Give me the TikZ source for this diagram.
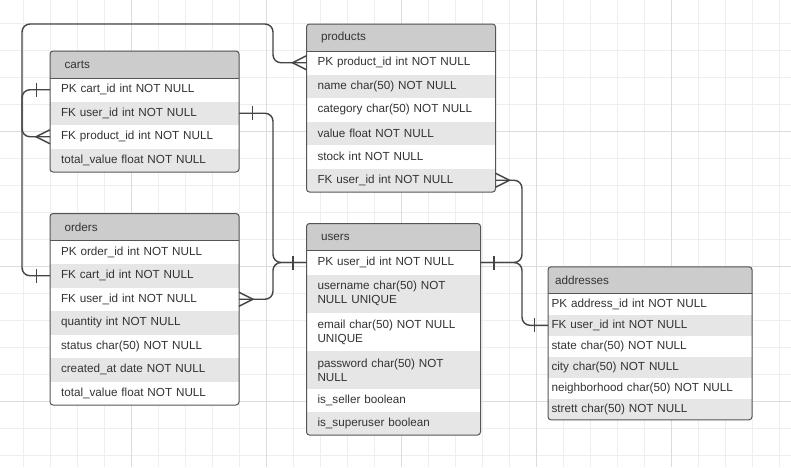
\documentclass[tikz,border=0pt]{standalone}
\usepackage{fontspec}
\setmainfont{Liberation Sans}
\usetikzlibrary{calc}
\definecolor{gridminor}{HTML}{EEEEEE}
\definecolor{gridmajor}{HTML}{DCDCDC}
\definecolor{hdrcol}{HTML}{CCCCCC}
\definecolor{altcol}{HTML}{E6E6E6}
\definecolor{bordcol}{HTML}{555555}
\definecolor{linecol}{HTML}{444444}
\definecolor{txtcol}{HTML}{333333}
\newcommand\erfont{\fontsize{11.7}{13.8}\selectfont}
% #1 name, #2 x, #3 y, #4 width, #5 total height, #6 title, #7 row indent, #8 header indent
\newcommand\ertab[8]{%
  \pgfmathsetmacro\erw{#4}%
  \pgfmathsetmacro\erwt{#4-2*#7}%
  \pgfmathsetmacro\erwh{#4-2*#8}%
  \pgfmathsetmacro\erin{#7}%
  \xdef\ertop{#1}\xdef\erprev{#1}%
  \begin{scope}
  \clip[rounded corners=3pt] (#2,#3) rectangle ++(#4,#5);
  \node[hdrbox, inner xsep=#8 pt, minimum width=\erw pt, text width=\erwh pt] (#1) at (#2,#3) {#6};
}
\newcommand\errow[4]{%
  \node[rowbox, fill=#2, inner xsep=\erin pt, minimum width=\erw pt, text width=\erwt pt, minimum height=#3 pt] (#1) at (\erprev.south west) {#4};
  \xdef\erprev{#1}}
\newcommand\erend{%
  \end{scope}
  \draw[border, rounded corners=3pt] (\ertop.north west) rectangle (\erprev.south east);
  \draw[border] (\ertop.south west) -- (\ertop.south east);}
\newcommand\barW[1]{\draw[erm] ([xshift=-13.5pt]#1.west) ++(0,-7) -- ++(0,14);}
\newcommand\barE[1]{\draw[erm] ([xshift=13.5pt]#1.east) ++(0,-7) -- ++(0,14);}
\newcommand\crowW[1]{\draw[erm] ([yshift=7pt]#1.west) -- ([xshift=-14pt]#1.west) -- ([yshift=-7pt]#1.west);}
\newcommand\crowE[1]{\draw[erm] ([yshift=7pt]#1.east) -- ([xshift=14pt]#1.east) -- ([yshift=-7pt]#1.east);}
\begin{document}
\begin{tikzpicture}[x=1pt,y=-1pt,
  hdrbox/.style={anchor=north west, fill=hdrcol, inner ysep=0pt, outer sep=0pt, minimum height=27pt, align=left, font=\erfont, text=txtcol},
  rowbox/.style={anchor=north west, inner ysep=0pt, outer sep=0pt, align=left, font=\erfont, text=txtcol},
  border/.style={draw=bordcol, line width=1pt},
  conn/.style={draw=linecol, line width=1.4pt, rounded corners=8pt},
  erm/.style={draw=linecol, line width=1.4pt},
  gmin/.style={draw=gridminor, line width=0.8pt},
  gmaj/.style={draw=gridmajor, line width=0.8pt}]
\fill[white] (0,0) rectangle (791,467);
\useasboundingbox (0,0) rectangle (791,467);
% grid
\foreach \k in {0,...,30} {\draw[gmin] ({-3.7+27*\k},0) -- ({-3.7+27*\k},467);}
\foreach \k in {0,...,18} {\draw[gmin] (0,{-3.7+27*\k}) -- (791,{-3.7+27*\k});}
\foreach \k in {0,...,6} {\draw[gmaj] ({-3.7+135*\k},0) -- ({-3.7+135*\k},467);}
\foreach \k in {0,...,3} {\draw[gmaj] (0,{-3.7+135*\k}) -- (791,{-3.7+135*\k});}

% tables
\ertab{carts}{50}{51}{189}{121}{carts}{11}{14.5}
\errow{carts-r1}{white}{23.5}{PK cart\_id int NOT NULL}
\errow{carts-r2}{altcol}{23.5}{FK user\_id int NOT NULL}
\errow{carts-r3}{white}{23.5}{FK product\_id int NOT NULL}
\errow{carts-r4}{altcol}{23.5}{total\_value float NOT NULL}
\erend

\ertab{products}{306.5}{24}{189}{168}{products}{11}{14.5}
\errow{products-r1}{white}{23.5}{PK product\_id int NOT NULL}
\errow{products-r2}{altcol}{23.5}{name char(50) NOT NULL}
\errow{products-r3}{white}{23.5}{category char(50) NOT NULL}
\errow{products-r4}{altcol}{23.5}{value float NOT NULL}
\errow{products-r5}{white}{23.5}{stock int NOT NULL}
\errow{products-r6}{altcol}{23.5}{FK user\_id int NOT NULL}
\erend

\ertab{orders}{50}{213.5}{189}{191.5}{orders}{11}{14.5}
\errow{orders-r1}{white}{23.5}{PK order\_id int NOT NULL}
\errow{orders-r2}{altcol}{23.5}{FK cart\_id int NOT NULL}
\errow{orders-r3}{white}{23.5}{FK user\_id int NOT NULL}
\errow{orders-r4}{altcol}{23.5}{quantity int NOT NULL}
\errow{orders-r5}{white}{23.5}{status char(50) NOT NULL}
\errow{orders-r6}{altcol}{23.5}{created\_at date NOT NULL}
\errow{orders-r7}{white}{23.5}{total\_value float NOT NULL}
\erend

\ertab{users}{306.5}{223.5}{174}{211.5}{users}{11}{14.5}
\errow{users-r1}{white}{24}{PK user\_id int NOT NULL}
\errow{users-r2}{altcol}{38.5}{username char(50) NOT\\NULL UNIQUE}
\errow{users-r3}{white}{38}{email char(50) NOT NULL\\UNIQUE}
\errow{users-r4}{altcol}{38}{password char(50) NOT\\NULL}
\errow{users-r5}{white}{23}{is\_seller boolean}
\errow{users-r6}{altcol}{23}{is\_superuser boolean}
\erend

\ertab{addresses}{548}{266.8}{204}{153}{addresses}{3.5}{7}
\errow{addresses-r1}{white}{21}{PK address\_id int NOT NULL}
\errow{addresses-r2}{altcol}{21}{FK user\_id int NOT NULL}
\errow{addresses-r3}{white}{21}{state char(50) NOT NULL}
\errow{addresses-r4}{altcol}{21}{city char(50) NOT NULL}
\errow{addresses-r5}{white}{21}{neighborhood char(50) NOT NULL}
\errow{addresses-r6}{altcol}{21}{strett char(50) NOT NULL}
\erend

% connector guides
\coordinate (xL) at (22,0);
\coordinate (xM) at (273,0);
\coordinate (xR) at (522,0);
\coordinate (cA1) at (273,24);
\coordinate (cA2) at (22,24);

% connectors
\draw[conn] (products-r1.west) -| (cA1) -- (cA2) |- (carts-r3.west);
\draw[conn] (carts-r1.west) -| (xL |- orders-r2.west) -- (orders-r2.west);
\draw[conn] (carts-r2.east) -| (xM |- users-r1.west) -- (users-r1.west);
\draw[conn] (orders-r3.east) -| (xM |- users-r1.west) -- (users-r1.west);
\draw[conn] (users-r1.east) -| (xR |- products-r6.east) -- (products-r6.east);
\draw[conn] (users-r1.east) -| (xR |- addresses-r2.west) -- (addresses-r2.west);

% markers
\crowW{products-r1}
\crowW{carts-r3}
\barW{carts-r1}
\barW{orders-r2}
\barE{carts-r2}
\crowE{orders-r3}
\barW{users-r1}
\barE{users-r1}
\crowE{products-r6}
\barW{addresses-r2}
\end{tikzpicture}
\end{document}
